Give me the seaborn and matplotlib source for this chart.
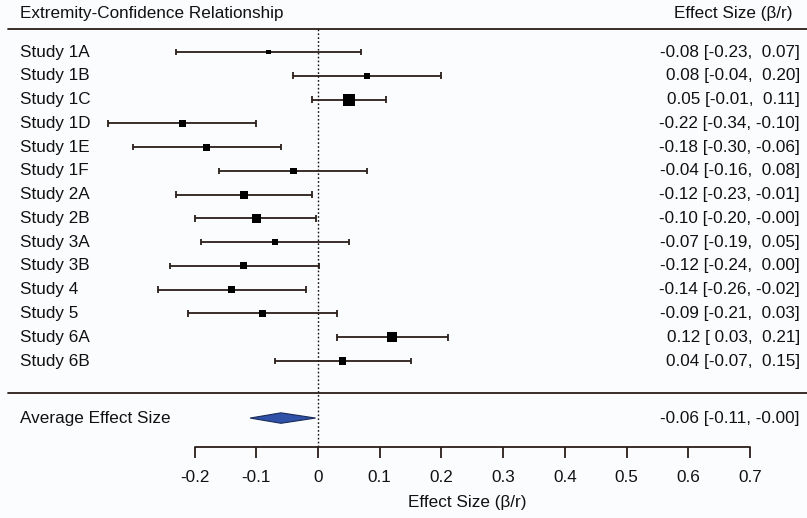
import numpy as np
import matplotlib
matplotlib.use("Agg")
import matplotlib.pyplot as plt
import seaborn as sns

studies = ["Study 1A", "Study 1B", "Study 1C", "Study 1D", "Study 1E", "Study 1F",
           "Study 2A", "Study 2B", "Study 3A", "Study 3B", "Study 4", "Study 5",
           "Study 6A", "Study 6B"]
effect = [-0.08, 0.08, 0.05, -0.22, -0.18, -0.04, -0.12, -0.10, -0.07, -0.12,
          -0.14, -0.09, 0.12, 0.04]
ci_low = [-0.23, -0.04, -0.01, -0.34, -0.30, -0.16, -0.23, -0.20, -0.19, -0.24,
          -0.26, -0.21, 0.03, -0.07]
ci_high = [0.07, 0.20, 0.11, -0.10, -0.06, 0.08, -0.01, -0.004, 0.05, 0.002,
           -0.02, 0.03, 0.21, 0.15]
# square sizes (study weight), in pixels
weight_px = [5, 6, 12, 7, 7, 6.5, 8, 9.5, 6.5, 7, 7, 6.5, 9.5, 7.5]

avg_effect = -0.06
avg_low = -0.11
avg_high = -0.004

ticks = [-0.2, -0.1, 0, 0.1, 0.2, 0.3, 0.4, 0.5, 0.6, 0.7]
tick_labels = ["-0.2", "-0.1", "0", "0.1", "0.2", "0.3", "0.4", "0.5", "0.6", "0.7"]

sns.set_theme(style="white")
plt.rcParams['font.family'] = ['Liberation Sans', 'DejaVu Sans']

bg = "#fbfcfe"
ink = "#2a1e18"
txt = "#111111"
fs = 12.3

fig = plt.figure(figsize=(8.07, 5.18), dpi=100, facecolor=bg)
ax = fig.add_axes([0, 0, 1, 1])
ax.set_facecolor(bg)
ax.axis("off")

# map pixels: x=0 at px 318, 0.1 per 61.7 px ; rows every 23.77 px from px 52
ax.set_xlim(-318 / 617, (807 - 318) / 617)
ax.set_ylim((518 - 52) / 23.77, -52 / 23.77)

rows = np.arange(len(studies))
x_lab = (20 - 318) / 617
x_right = (800 - 318) / 617

def fmt(v):
    return f"{v:5.2f}"

# header
ax.text(x_lab, -1.6, "Extremity-Confidence Relationship", fontsize=fs, va="center", ha="left", color=txt)
ax.text((792 - 318) / 617, -1.6, "Effect Size (\u03b2/r)", fontsize=fs, va="center", ha="right", color=txt)
ax.plot([-310 / 617, 0.8], [-0.95, -0.95], color=ink, lw=1.3)

# zero reference line
ax.plot([0, 0], [-0.95, 16.62], color=txt, lw=1, ls=(0, (1.2, 1.6)))

# confidence intervals
ax.hlines(rows, ci_low, ci_high, color=ink, lw=1.3)
ax.vlines(ci_low, rows - 0.14, rows + 0.14, color=ink, lw=1.3)
ax.vlines(ci_high, rows - 0.14, rows + 0.14, color=ink, lw=1.3)

area = [(p / 1.389) ** 2 for p in weight_px]
sns.scatterplot(x=effect, y=rows, size=area, sizes=(min(area), max(area)), marker="s",
                color="black", edgecolor="black", linewidth=0, legend=False, ax=ax, zorder=3)

for i, name in enumerate(studies):
    ax.text(x_lab, i, name, fontsize=fs, va="center", ha="left", color=txt)
    ax.text(x_right, i, f"{effect[i]:.2f} [{fmt(ci_low[i])}, {fmt(ci_high[i])}]",
            fontsize=fs, va="center", ha="right", color=txt)

# separator
ax.plot([-310 / 617, 0.8], [14.35, 14.35], color=ink, lw=1.3)

# average diamond
avg_row = 15.4
ax.fill([avg_low, avg_effect, avg_high, avg_effect], [avg_row, avg_row - 0.22, avg_row, avg_row + 0.22],
        facecolor="#2f52a8", edgecolor="#1a2b5a", lw=0.8, zorder=3)
ax.text(x_lab, avg_row, "Average Effect Size", fontsize=fs, va="center", ha="left", color=txt)
ax.text(x_right, avg_row, f"{avg_effect:.2f} [{fmt(avg_low)}, {fmt(avg_high)}]",
        fontsize=fs, va="center", ha="right", color=txt)

# x axis drawn by hand
axis_row = 16.62
ax.plot([ticks[0], ticks[-1]], [axis_row, axis_row], color=ink, lw=1.3)
ax.vlines(ticks, axis_row, axis_row + 0.46, color=ink, lw=1.3)
for t, lab in zip(ticks, tick_labels):
    ax.text(t, 17.92, lab, fontsize=fs, ha="center", va="center", color=txt)
ax.text((467 - 318) / 617, 18.97, "Effect Size (\u03b2/r)", fontsize=fs, ha="center", va="center", color=txt)

fig.savefig("out.png", dpi=100, facecolor=bg)
